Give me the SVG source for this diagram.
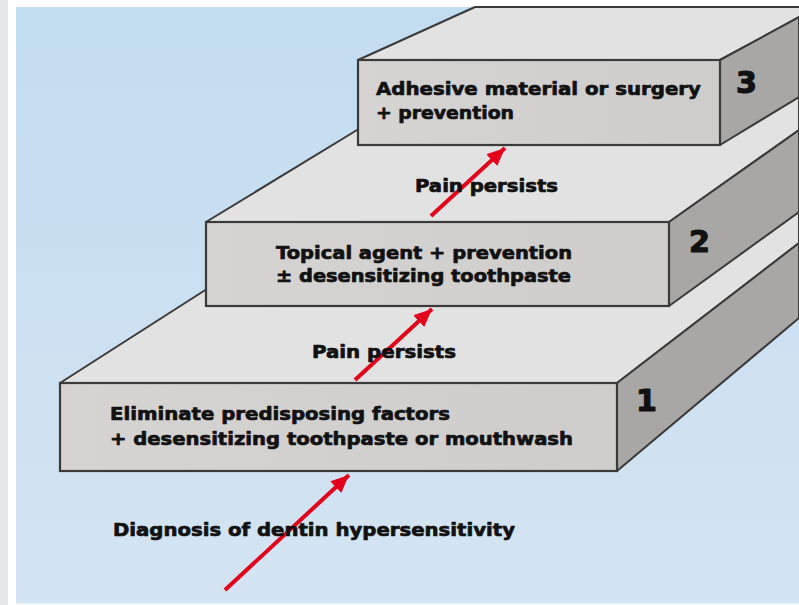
<svg xmlns="http://www.w3.org/2000/svg" width="799" height="605" viewBox="0 0 799 605">
<defs>
<linearGradient id="bg" x1="0" y1="0" x2="0" y2="1">
<stop offset="0" stop-color="#c2dcf0"/>
<stop offset="1" stop-color="#d4e4f2"/>
</linearGradient>
<linearGradient id="front" x1="0" y1="0" x2="1" y2="0">
<stop offset="0" stop-color="#d6d3d3"/>
<stop offset="1" stop-color="#cfcccc"/>
</linearGradient>
<marker id="ah" markerUnits="userSpaceOnUse" markerWidth="20" markerHeight="16" refX="18" refY="8" orient="auto">
<path d="M0,0 L18,8 L0,16 Z" fill="#e3001b"/>
</marker>
<style>
.top{fill:#e3e2e2;stroke:#3a3a3a;stroke-width:2;stroke-linejoin:round}
.side{fill:#a9a6a6;stroke:#3a3a3a;stroke-width:2;stroke-linejoin:round}
.front{fill:url(#front);stroke:#3a3a3a;stroke-width:2.2}
.t{font-family:"DejaVu Sans","Liberation Sans",sans-serif;font-weight:bold;font-size:18px;fill:#111;stroke:#111;stroke-width:0.7;stroke-linejoin:round}
.n{font-family:"DejaVu Sans","Liberation Sans",sans-serif;font-weight:bold;font-size:30px;fill:#111;stroke:#111;stroke-width:1.2;stroke-linejoin:round}
.arr{stroke:#e3001b;stroke-width:4;fill:none;marker-end:url(#ah)}
</style>
</defs>
<rect x="0" y="0" width="799" height="605" fill="#ffffff"/>
<rect x="0" y="0" width="8" height="605" fill="#e6e7e9"/>
<rect x="16" y="7" width="783" height="596" fill="url(#bg)"/>
<rect x="16" y="603" width="783" height="2" fill="#f3f5f7"/>

<g id="step1">
<polygon class="top" points="60,383 210,287 669,240 799,160 799,243 617,383"/>
<polygon class="side" points="617,383 799,243 799,318 617,471"/>
<rect class="front" x="60" y="383" width="557" height="88"/>
<text class="n" x="636" y="411">1</text>
<text class="t" x="110" y="420" textLength="340" lengthAdjust="spacingAndGlyphs">Eliminate predisposing factors</text>
<text class="t" x="110" y="445" textLength="463" lengthAdjust="spacingAndGlyphs">+ desensitizing toothpaste or mouthwash</text>
</g>

<g id="step2">
<polygon class="top" points="206,222 362,127 720,100 799,60 799,130 669,222"/>
<polygon class="side" points="669,222 799,130 799,212 669,306"/>
<rect class="front" x="206" y="222" width="463" height="84"/>
<text class="n" x="689" y="252">2</text>
<text class="t" x="276" y="259" textLength="296" lengthAdjust="spacingAndGlyphs">Topical agent + prevention</text>
<text class="t" x="276" y="282" textLength="295" lengthAdjust="spacingAndGlyphs">± desensitizing toothpaste</text>
</g>

<g id="step3">
<polygon class="top" points="358,60 475,7 800,7 800,17 720,60"/>
<polygon class="side" points="720,60 799,17 799,97 720,145"/>
<rect class="front" x="358" y="60" width="362" height="85"/>
<text class="n" x="736" y="93">3</text>
<text class="t" x="376" y="95" textLength="325" lengthAdjust="spacingAndGlyphs">Adhesive material or surgery</text>
<text class="t" x="376" y="119" textLength="138" lengthAdjust="spacingAndGlyphs">+ prevention</text>
</g>

<g id="connectors">
<line class="arr" x1="225" y1="590" x2="349" y2="475"/>
<line class="arr" x1="355" y1="380" x2="432" y2="309"/>
<line class="arr" x1="431" y1="216" x2="505" y2="148"/>
</g>

<g id="labels">
<text class="t" x="113" y="536" textLength="402" lengthAdjust="spacingAndGlyphs">Diagnosis of dentin hypersensitivity</text>
<text class="t" x="312" y="358" textLength="144" lengthAdjust="spacingAndGlyphs">Pain persists</text>
<text class="t" x="415" y="192" textLength="143" lengthAdjust="spacingAndGlyphs">Pain persists</text>
</g>
</svg>
